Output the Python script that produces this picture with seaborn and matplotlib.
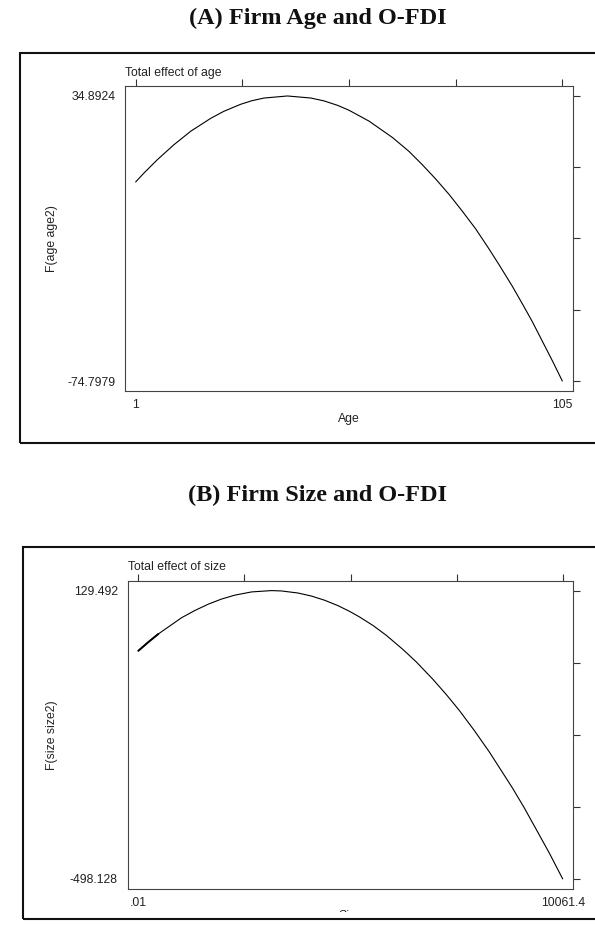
import numpy as np
import seaborn as sns
import matplotlib.pyplot as plt
from matplotlib.patches import Rectangle

sns.set_style("white")
plt.rcParams['font.family'] = ['Liberation Sans', 'DejaVu Sans']

# (A) total effect of firm age
age = [1, 3.0, 6.3, 10.3, 14.4, 19.3, 22.5, 26.6, 29.4, 32.3, 38.0, 43.7, 46.9, 50.2,
       53.0, 57.9, 63.6, 67.6, 70.9, 74.1, 77.4, 80.6, 83.9, 87.1, 89.6, 92.8,
       95.3, 97.7, 100.1, 102.6, 105]
effect_age = [1.8, 5.2, 10.4, 16.1, 21.3, 26.3, 29.0, 31.7, 33.1, 34.1, 34.8924, 34.1, 33.0, 31.3,
              29.4, 25.2, 18.9, 13.6, 8.4, 3.0, -3.0, -9.4, -16.3, -23.9, -30.1, -38.3,
              -45.2, -52.0, -59.4, -67.1, -74.7979]
age_xticklabels = ['1', '', '', '', '105']
age_yticklabels = ['-74.7979', '', '', '', '34.8924']

# (B) total effect of firm size
size = [0.01, 237, 473, 1027, 1342, 1657, 1974, 2289, 2685, 3156, 3395, 3788, 4105,
        4420, 4735, 5012, 5249, 5563, 5881, 6274, 6591, 6984, 7301, 7616, 7971,
        8326, 8878, 9155, 9432, 9747, 10061.4]
effect_size = [-1.6, 17.3, 35.0, 70.5, 86.2, 99.9, 111.1, 119.6, 126.6, 129.492, 128.7, 124.2, 117.6,
               108.4, 96.7, 84.1, 71.9, 53.6, 32.0, 1.3, -25.8, -63.6, -96.7, -132.0, -175.7,
               -222.3, -301.3, -344.2, -390.0, -442.3, -498.128]
size_xticklabels = ['.01', '', '', '', '10061.4']
size_yticklabels = ['-498.128', '', '', '', '129.492']

W, H = 595, 925
fig = plt.figure(figsize=(W / 100, H / 100), dpi=100)


def px(l, t, r, b):
    return [l / W, 1 - b / H, (r - l) / W, (b - t) / H]


def panel(ax, x, y, xtl, ytl, xlabel, ylabel, note, ylab_x, xlab_y):
    sns.lineplot(x=x, y=y, ax=ax, color='black', linewidth=0.8, sort=False)
    ax.set_xticks(np.linspace(min(x), max(x), len(xtl)), xtl)
    ax.set_yticks(np.linspace(min(y), max(y), len(ytl)), ytl)
    ax.margins(x=0.025, y=0.035)
    ax.tick_params(direction='out', length=5, width=0.8, top=True, right=True,
                   labelsize=8.8, colors='#333', labelcolor='#222')
    ax.tick_params(axis='x', pad=1)
    ax.tick_params(axis='y', pad=2)
    for s in ax.spines.values():
        s.set_color('#444')
        s.set_linewidth(0.8)
    ax.set_xlabel(xlabel, fontsize=8.8, color='#222')
    ax.set_ylabel(ylabel, fontsize=8.8, color='#222')
    ax.xaxis.set_label_coords(0.5, xlab_y)
    ax.yaxis.set_label_coords(ylab_x, 0.5)
    ax.annotate(note, xy=(0, 1), xycoords='axes fraction', xytext=(0, 7.2),
                textcoords='offset points', fontsize=8.8, color='#222',
                ha='left', va='baseline')


ax1 = fig.add_axes(px(125, 86, 573, 391))
panel(ax1, age, effect_age, age_xticklabels, age_yticklabels,
      'Age', 'F(age age2)', 'Total effect of age', -0.15, -0.072)

ax2 = fig.add_axes(px(127.7, 580.5, 573.3, 889))
panel(ax2, size, effect_size, size_xticklabels, size_yticklabels,
      'Size', 'F(size size2)', 'Total effect of size', -0.156, -0.068)
# the plotted line is heavier where the size data bunch up near zero
sns.lineplot(x=size[:3], y=effect_size[:3], ax=ax2, color='black', linewidth=1.4)

# panel titles
title_font = dict(ha='center', va='center', fontsize=17.5, fontweight='bold',
                  color='#111', family=['Liberation Serif', 'DejaVu Serif'])
fig.text(318 / W, 1 - 18 / H, '(A) Firm Age and O-FDI', **title_font)
fig.text(318 / W, 1 - 495 / H, '(B) Firm Size and O-FDI', **title_font)

# the scan cuts off the lower x label
fig.add_artist(Rectangle((0, 0), 1, 13 / H, transform=fig.transFigure,
                         facecolor='white', edgecolor='none', zorder=4))

# outer frames round each graph
fig.add_artist(Rectangle((19.5 / W, 1 - 443 / H), 620 / W, 390 / H, transform=fig.transFigure,
                         fill=False, edgecolor='#111', linewidth=1.5, zorder=5))
fig.add_artist(Rectangle((22.5 / W, 1 - 919 / H), 620 / W, 372 / H, transform=fig.transFigure,
                         fill=False, edgecolor='#111', linewidth=1.5, zorder=5))

fig.savefig('out.png', dpi=100)
